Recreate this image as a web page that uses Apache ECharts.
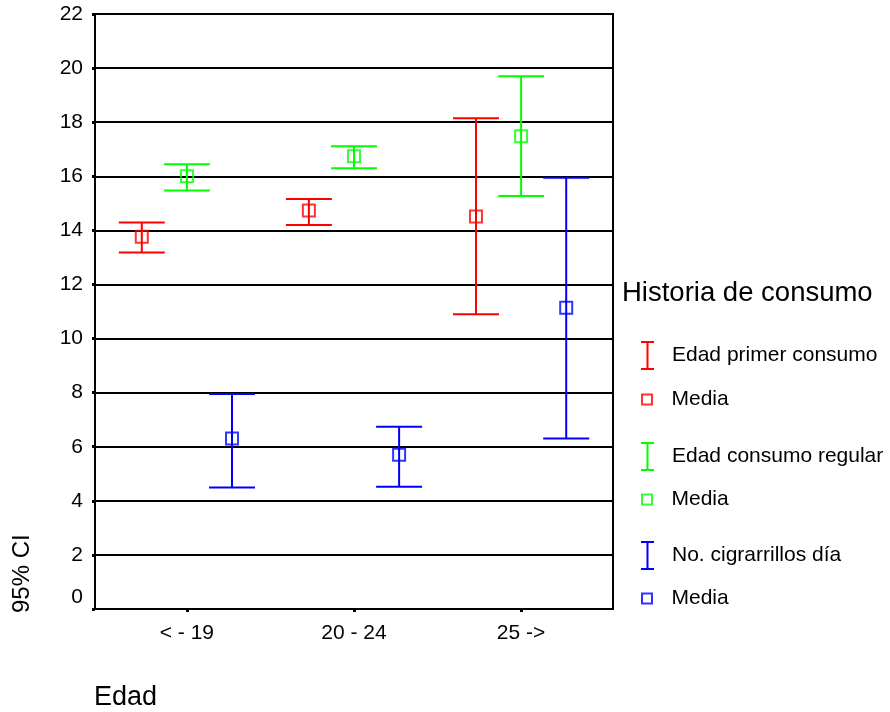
<!DOCTYPE html>
<html>
<head>
<meta charset="utf-8">
<script src="https://cdn.jsdelivr.net/npm/echarts@6/dist/echarts.min.js"></script>
<style>
  html, body { margin: 0; padding: 0; background: #fff; }
  #chart { width: 890px; height: 712px; }
</style>
</head>
<body>
<div id="chart"></div>
<script>
// categories on the x axis
const categories = ['< - 19', '20 - 24', '25 ->']

// Edad primer consumo (red)
const primerLow = [13.18, 14.2, 10.9]
const primerHigh = [14.29, 15.16, 18.15]
const primerMean = [13.76, 14.73, 14.51]

// Edad consumo regular (green)
const regularLow = [15.47, 16.3, 15.27]
const regularHigh = [16.44, 17.11, 19.7]
const regularMean = [16.0, 16.74, 17.48]

// No. cigrarrillos dia (blue)
const cigLow = [4.49, 4.52, 6.3]
const cigHigh = [7.95, 6.74, 15.95]
const cigMean = [6.3, 5.7, 11.14]

const FONT = '"Liberation Sans", Arial, sans-serif'
const RED = '#ff0000'
const GREEN = '#00ff00'
const BLUE = '#0000ff'

// cluster offsets of the three variables inside a category
const OFFSETS = [-0.27, 0, 0.27]

const barIcon = 'path://M0,0H13V2H7.5V27H13V29H0V27H5.5V2H0Z'
const boxIcon = 'path://M0,0H12V12H0Z M2,2V10H10V2Z'

function barData(low, high, k) {
  return low.map((v, i) => [i + OFFSETS[k], v, high[i]])
}
function meanData(mean, k) {
  return mean.map((v, i) => [i + OFFSETS[k], v])
}

function renderErrorBar(params, api) {
  const x = api.value(0)
  const lo = api.coord([x, api.value(1)])
  const hi = api.coord([x, api.value(2)])
  const hw = 23
  const style = { stroke: api.visual('color'), lineWidth: 2 }
  return {
    type: 'group',
    children: [
      { type: 'line', shape: { x1: lo[0], y1: lo[1], x2: hi[0], y2: hi[1] }, style },
      { type: 'line', shape: { x1: hi[0] - hw, y1: hi[1], x2: hi[0] + hw, y2: hi[1] }, style },
      { type: 'line', shape: { x1: lo[0] - hw, y1: lo[1], x2: lo[0] + hw, y2: lo[1] }, style },
    ],
  }
}

function errorSeries(name, color, low, high, k) {
  return {
    name,
    type: 'custom',
    color,
    renderItem: renderErrorBar,
    data: barData(low, high, k),
    z: 3,
  }
}

function meanSeries(name, color, mean, k) {
  return {
    name,
    type: 'scatter',
    symbol: 'rect',
    symbolSize: 12,
    itemStyle: { color: 'transparent', borderColor: color, borderWidth: 2 },
    data: meanData(mean, k),
    z: 4,
  }
}

const legendNames = {
  e1: 'Edad primer consumo', m1: 'Media',
  e2: 'Edad consumo regular', m2: 'Media',
  e3: 'No. cigrarrillos día', m3: 'Media',
}

function legendItem(id, top, icon, color) {
  const isBar = icon === barIcon
  return {
    left: 641,
    top,
    orient: 'vertical',
    selectedMode: false,
    itemWidth: 13,
    itemHeight: isBar ? 29 : 12,
    padding: 0,
    formatter: (n) => legendNames[n],
    textStyle: { fontFamily: FONT, fontSize: 21, color: '#000', padding: [0, 0, 0, 13] },
    data: [{ name: id, icon, itemStyle: { color, borderWidth: 0 } }],
  }
}

const chart = echarts.init(document.getElementById('chart'), null, { renderer: 'canvas' })

chart.setOption({
  backgroundColor: '#fff',
  animation: false,
  title: {
    text: 'Historia de consumo',
    left: 622,
    top: 279,
    padding: 0,
    textStyle: { fontFamily: FONT, fontSize: 27.5, fontWeight: 'normal', color: '#000' },
  },
  legend: [
    legendItem('e1', 341, barIcon, RED),
    legendItem('m1', 389, boxIcon, RED),
    legendItem('e2', 442, barIcon, GREEN),
    legendItem('m2', 489, boxIcon, GREEN),
    legendItem('e3', 541, barIcon, BLUE),
    legendItem('m3', 588, boxIcon, BLUE),
  ],
  grid: {
    left: 95, right: 277, top: 14, bottom: 103,
    show: true, borderColor: '#000', borderWidth: 2,
  },
  xAxis: {
    type: 'value',
    min: -0.55,
    max: 2.55,
    splitLine: { show: false },
    axisLine: { lineStyle: { color: '#000', width: 2 } },
    axisTick: { customValues: [0, 1, 2], length: 3, lineStyle: { color: '#000', width: 3 } },
    axisLabel: {
      customValues: [0, 1, 2],
      formatter: (v) => categories[Math.round(v)],
      fontFamily: FONT, fontSize: 21, color: '#000', margin: 14,
    },
  },
  yAxis: {
    type: 'value',
    min: 0,
    max: 22,
    interval: 2,
    axisLine: { show: true, onZero: false, lineStyle: { color: '#000', width: 2 } },
    axisTick: { show: true, length: 3, lineStyle: { color: '#000', width: 3 } },
    splitLine: { show: true, lineStyle: { color: '#000', width: 2 } },
    axisLabel: {
      fontFamily: FONT, fontSize: 21, color: '#000', margin: 12,
      formatter: (v) => (v === 0 ? '{z|0}' : String(v)),
      rich: { z: { fontFamily: FONT, fontSize: 21, color: '#000', padding: [0, 0, 24, 0] } },
    },
  },
  graphic: [
    {
      type: 'text', x: 22, y: 613, rotation: Math.PI / 2,
      style: { text: '95% CI', font: '24px ' + FONT, fill: '#000', textAlign: 'left', textVerticalAlign: 'middle' },
    },
    {
      type: 'text', x: 94, y: 698,
      style: { text: 'Edad', font: '27px ' + FONT, fill: '#000', textAlign: 'left', textVerticalAlign: 'middle' },
    },
  ],
  series: [
    errorSeries('e1', RED, primerLow, primerHigh, 0),
    meanSeries('m1', RED, primerMean, 0),
    errorSeries('e2', GREEN, regularLow, regularHigh, 1),
    meanSeries('m2', GREEN, regularMean, 1),
    errorSeries('e3', BLUE, cigLow, cigHigh, 2),
    meanSeries('m3', BLUE, cigMean, 2),
  ],
})
</script>
</body>
</html>
